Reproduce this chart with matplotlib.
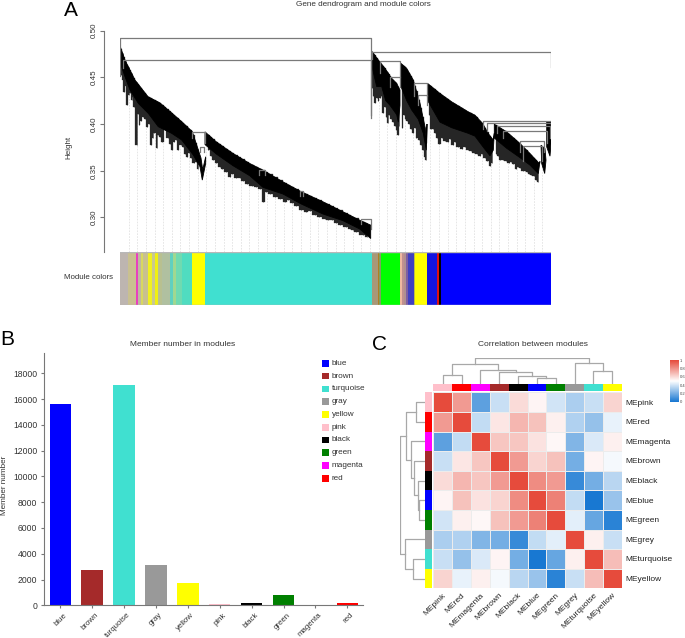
import numpy as np
import matplotlib
matplotlib.use("Agg")
import matplotlib.pyplot as plt
from matplotlib.colors import LinearSegmentedColormap
from matplotlib.patches import Rectangle
from matplotlib.transforms import ScaledTranslation

plt.rcParams['font.family'] = ['Liberation Sans', 'DejaVu Sans']

W, H = 685, 638

# A. dendrogram branches: position along the gene order, top and bottom of the black band
b1_pos_top = [0.3, 5, 15, 28, 40, 51.7, 61.7, 72.3, 76.7, 81, 82.7, 85.7]
b1_top = [.4827, .4684, .447, .4292, .4225, .4118, .4025, .3918, .3775, .3636, .351, .365]
b1_pos_bot = [0.3, 5, 10, 18.3, 28.3, 38.3, 51.7, 61.7, 73.3, 80, 82.3, 85.7]
b1_bot = [.4649, .4506, .4364, .4221, .4114, .3971, .39, .3829, .3668, .3543, .34, .358]

b2_pos = [85, 96.3, 113, 129.7, 143, 163, 181.3, 203, 223, 239.7, 250.7]
b2_top = [.3916, .3809, .3685, .3578, .3506, .3381, .3275, .3168, .3061, .2971, .2918]
b2_bot = [.378, .3679, .3554, .3447, .3322, .3251, .3144, .3037, .2966, .2877, .2775]

b3_pos_top = [252.3, 258.3, 265, 271.7, 276.7, 280]
b3_top = [.4773, .4684, .4595, .4488, .4434, .4363]
b3_pos_bot = [252.3, 256.7, 261.7, 265.7, 270, 276.7, 278.3, 280]
b3_bot = [.46, .44, .44, .425, .42, .41, .402, .42]

b4_pos_top = [281, 286.7, 293.3, 300, 305, 306.7]
b4_top = [.4648, .4595, .447, .4221, .3971, .3793]
b4_pos_bot = [281, 286.7, 291.7, 298.3, 303.3, 306.3, 307]
b4_bot = [.44, .425, .415, .405, .39, .372, .40]

b5_pos_top = [307.7, 320, 331.7, 348.3, 355, 362.7, 368.3, 373.3]
b5_top = [.4433, .4326, .4237, .413, .4094, .4005, .3898, .3827]
b5_pos_bot = [307.7, 320, 331.7, 348.3, 355, 362.7, 370, 373.3, 374.3]
b5_bot = [.425, .402, .396, .39, .387, .376, .366, .372, .39]

b6_pos_top = [374.3, 386.7, 400, 410, 419.3]
b6_top = [.3998, .3916, .3791, .3684, .3577]
b6_pos_bot = [374.3, 386.7, 400, 410, 418.3, 420]
b6_bot = [.385, .374, .364, .356, .347, .36]

b7_pos_top = [421, 425]
b7_top = [.3773, .3737]
b7_pos_bot = [421.7, 424.7, 426]
b7_bot = [.3577, .347, .3613]

b8_pos_top = [426.7, 431]
b8_top = [.4023, .4023]
b8_pos_bot = [426.7, 430, 431.3]
b8_bot = [.3755, .3656, .3827]

# long leaves hanging below the band
spike_pos = [1, 2.5, 4, 5.5, 7.3, 8.5, 10, 11.5, 12.3, 14, 16.7, 18, 19.3, 21, 23.3, 25, 27.3, 29, 30.7, 32.5,
             34.3, 36.7, 38, 40, 42, 45, 47.5, 49.5, 51.7, 53.5, 56, 58, 60.5, 63.3, 65, 66.7, 69, 71, 73.5, 76, 78,
             88, 91, 93, 96, 99.7, 102, 106, 109.7, 112, 116, 119.7, 123, 127, 132, 136, 140, 143, 146, 150, 155,
             160, 165, 168, 172, 176, 181.3, 186, 190, 195, 199, 204.7, 208, 212, 216, 219.7, 226, 230, 233, 236,
             243, 247,
             252.3, 253.5, 255, 257, 258.5, 260, 261.5, 263.3, 265, 266.5, 267.7, 269, 271, 273, 275, 276.5, 278.3,
             279.5, 282.3, 284, 285.5, 287.5, 289.5, 291, 293, 295, 296.5, 299, 301, 303, 305, 306,
             309, 311, 313, 315, 317, 319.3, 322, 325, 328, 330, 333, 335, 338, 341.7, 345, 348, 351, 354, 357, 360,
             362, 365, 367.5, 370, 372,
             376, 378, 380, 383, 386, 389, 391, 393.3, 396, 398, 400, 403, 405, 406.7, 409, 411, 414, 416, 418.3]
spike_low = [.4524, .447, .4345, .441, .4203, .431, .4328, .426, .4292, .418, .3775, .411, .3989, .403, .4078, .405,
             .3971, .40, .3775, .385,
             .39, .374, .388, .3864, .381, .3936, .385, .379, .3722, .381, .3829, .372, .377, .3757, .368, .365,
             .369, .3632, .358, .3597, .352,
             .372, .366, .3613, .358, .3542, .352, .349, .3435, .347, .342, .3417, .339, .336, .334, .333, .330,
             .3168, .327, .325, .322,
             .320, .317, .3186, .315, .312, .3078, .306, .307, .303, .301, .2989, .297, .297, .294, .2918, .290,
             .288, .2865, .285, .281, .279,
             .4381, .43, .4221, .428, .425, .428, .43, .4114, .418, .408, .4007, .41, .405, .402, .398, .394, .3882,
             .398, .3953, .41, .405, .403, .40, .395, .39, .3953, .385, .383, .378, .372, .365, .362,
             .41, .395, .395, .39, .385, .3791, .385, .382, .381, .384, .377, .3809, .375, .3737, .375, .372, .371,
             .3691, .368, .366,
             .368, .3641, .36, .3552, .358,
             .368, .366, .3613, .362, .36, .358, .359, .3577, .352, .354, .3531, .35, .35, .3488, .346, .345, .3442,
             .34, .3381]

# brackets joining the branches
br_left = [0, 3, 252.3, 260, 270, 294, 298, 362.7, 366.7, 376.7, 383, 400, 403, 72.3, 79.7, 241, 139, 180]
br_right = [251.3, 251.3, 431.3, 280, 280, 307.3, 307.3, 430.7, 430.7, 430, 427, 424, 421.7, 85, 83.7, 251, 145, 183]
br_height = [.4922, .4683, .4771, .4673, .4499, .4443, .4308, .4033, .4012, .3976, .3926, .382, .3766, .3916,
             .3755, .2982, .3506, .3281]
br_left_low = [.451, .46, .47, .455, .44, .43, .42, .395, .393, .39, .385, .37, .36, .385, .37, .293, .345, .323]
br_right_low = [.4067, .41, .4611, .45, .44, .43, .42, .39, .385, .385, .38, .37, .36, .38, .37, .288, .345, .323]

# module colour strip along the dendrogram
strip_edges = [0, 8, 16, 17.5, 20.5, 22.5, 28, 32, 35, 37.5, 41.5, 50, 52.7, 56, 61.7, 72.3, 85, 251.7,
               257.7, 259, 260.7, 279.7, 282.3, 284, 286, 288, 294, 295, 307.3, 317, 318.7, 321, 431.3]
strip_colors = ['#bdb5b0', '#c9c090', '#e840c0', '#c0b8a0', '#d8d860', '#c8c090', '#f0f020', '#c8c890', '#f0f010',
                '#b8c090', '#b0c0a0', '#60d0c0', '#a0d890', '#70dab0', '#50dcc0', '#ffff00', '#40e0d0',
                '#a89878', '#b08020', '#80a060', '#00ff00', '#f0b8a0', '#c09090', '#b09090', '#8060a0', '#4040c0',
                '#c0c040', '#ffff00', '#1414e0', '#e01010', '#000000', '#0000ff']

# B. member numbers
modules = ['blue', 'brown', 'turquoise', 'gray', 'yellow', 'pink', 'black', 'green', 'magenta', 'red']
members = [15600, 2750, 17100, 3100, 1750, 80, 200, 800, 60, 190]
module_colors = ['#0000ff', '#a52a2a', '#40e0d0', '#999999', '#ffff00', '#ffc0cb', '#000000', '#008000', '#ff00ff',
                 '#ff0000']

# C. correlation between module eigengenes
me_names = ['MEpink', 'MEred', 'MEmagenta', 'MEbrown', 'MEblack', 'MEblue', 'MEgreen', 'MEgrey', 'MEturquoise',
            'MEyellow']
me_colors = ['#ffc0cb', '#ff0000', '#ff00ff', '#a52a2a', '#000000', '#0000ff', '#008000', '#999999', '#40e0d0',
             '#ffff00']
corr = [[1, .78, .15, .38, .60, .53, .40, .32, .38, .62],
        [.78, 1, .37, .57, .70, .67, .54, .33, .27, .45],
        [.15, .37, 1, .66, .66, .58, .52, .23, .42, .54],
        [.38, .57, .66, 1, .78, .62, .67, .20, .53, .48],
        [.60, .70, .66, .78, 1, .82, .78, .07, .20, .35],
        [.53, .67, .58, .62, .82, 1, .85, .37, 0, .28],
        [.40, .54, .52, .67, .78, .85, 1, .44, .17, .04],
        [.32, .33, .23, .20, .07, .37, .44, 1, .54, .38],
        [.38, .27, .42, .53, .20, 0, .17, .54, 1, .68],
        [.62, .45, .54, .48, .35, .28, .04, .38, .68, 1]]

# tree over the heatmap: ids 0-9 are leaves, each merge gets the next id
merge_a = [0, 5, 4, 3, 2, 10, 8, 7, 15]
merge_b = [1, 6, 11, 12, 13, 14, 9, 16, 17]
merge_h = [28, 18, 23, 35, 43, 60, 38, 63, 78]


def box(left, top, right, bottom):
    return fig.add_axes([left / W, 1 - bottom / H, (right - left) / W, (bottom - top) / H])


def label(x, y, s, **kw):
    fig.text(x / W, 1 - y / H, s, **kw)


def draw_tree(ax, vertical):
    pos = {i: i + .5 for i in range(10)}
    hgt = {i: 0 for i in range(10)}
    for k, (a, b, h) in enumerate(zip(merge_a, merge_b, merge_h)):
        xs = [pos[a], pos[a], pos[b], pos[b]]
        ys = [hgt[a], h, h, hgt[b]]
        if vertical:
            ax.plot(xs, ys, color='#a8a8a8', lw=.9)
        else:
            ax.plot(ys, xs, color='#a8a8a8', lw=.9)
        pos[10 + k] = (pos[a] + pos[b]) / 2
        hgt[10 + k] = h
    ax.axis('off')


fig = plt.figure(figsize=(W / 100, H / 100), dpi=100)

# 1. Panel A
ax = box(120, 30.5, 551.3, 251.7)
ax.set_xlim(0, 431.3)
ax.set_ylim(.2634, .5)

branches = [(b1_pos_top, b1_top, b1_pos_bot, b1_bot), (b2_pos, b2_top, b2_pos, b2_bot),
            (b3_pos_top, b3_top, b3_pos_bot, b3_bot), (b4_pos_top, b4_top, b4_pos_bot, b4_bot),
            (b5_pos_top, b5_top, b5_pos_bot, b5_bot), (b6_pos_top, b6_top, b6_pos_bot, b6_bot),
            (b7_pos_top, b7_top, b7_pos_bot, b7_bot), (b8_pos_top, b8_top, b8_pos_bot, b8_bot)]

all_pos = np.concatenate([b[0] for b in branches])
all_top = np.concatenate([b[1] for b in branches])
guides = np.arange(8.7, 432, 8.62)
guide_top = np.interp(guides, all_pos, all_top)
guide_top[-1] = .4575
ax.vlines(guides, .2634, guide_top, color='#e2e2e2', lw=.6, linestyles=(0, (2, 1.5)), zorder=1)

spike_tops = np.interp(spike_pos, all_pos, all_top)
ax.vlines(spike_pos, spike_tops, spike_low, color='#555555', lw=.7, alpha=.8, zorder=2)
# blocky fringe under the band, one piece per branch
breaks = np.searchsorted(spike_pos, [80, 250, 281, 308, 374])
for p, t, l in zip(np.split(spike_pos, breaks), np.split(spike_tops, breaks), np.split(spike_low, breaks)):
    ax.fill_between(p, t, l, step='mid', color='#262626', lw=.2, zorder=2.5)
for pt, t, pb, b in branches:
    ax.fill(list(pt) + list(pb)[::-1], list(t) + list(b)[::-1], color='black', lw=.6, zorder=3)

for l, r, h, ll, rl in zip(br_left, br_right, br_height, br_left_low, br_right_low):
    ax.plot([l, l, r, r], [ll, h, h, rl], color='#7a7a7a', lw=.9, zorder=4)

ax.spines[['top', 'right', 'bottom']].set_visible(False)
ax.spines['left'].set_position(('outward', 11.7))
ax.spines['left'].set_color('#777777')
ax.spines['left'].set_bounds(.2634, .5)
ax.set_xticks([])
ax.set_yticks([.30, .35, .40, .45, .50], ['0.30', '0.35', '0.40', '0.45', '0.50'])
ax.tick_params(axis='y', labelsize=5.8, labelcolor='#333333', color='#777777', length=3, width=.8, pad=1)
for t in ax.get_yticklabels():
    t.set_rotation(90)
    t.set_va('center')

strip = box(120, 251.7, 551.3, 305)
strip.bar(strip_edges[:-1], 1, width=np.diff(strip_edges), align='edge', color=strip_colors, lw=0)
strip.set_xlim(0, 431.3)
strip.set_ylim(0, 1)
strip.set_xticks([])
strip.set_yticks([])
for s in strip.spines.values():
    s.set_visible(False)
strip.axhline(0.005, color='#b8b8b8', lw=1)
strip.axhline(0.995, color='#b8b8b8', lw=1)

label(363, 4, 'Gene dendrogram and module colors', fontsize=5.9, color='#333333', ha='center', va='center')
label(69, 147, 'Height', fontsize=5.8, color='#333333', rotation=90, ha='center', va='center')
label(88, 278, 'Module colors', fontsize=5.7, color='#333333', ha='center', va='center')
label(64, 10, 'A', fontsize=15, ha='left', va='center')
label(0, 339, 'B', fontsize=15, ha='left', va='center')
label(372, 344, 'C', fontsize=15, ha='left', va='center')

# 2. Panel B
ax = box(44.3, 352.7, 363.3, 605.3)
x = np.arange(len(modules))
ax.bar(x, members, width=.67, color=module_colors)
ax.set_xlim(-.5, 9.5)
ax.set_ylim(0, 19600)
ax.set_yticks(np.arange(0, 18001, 2000))
ax.set_xticks(x, modules, rotation=45, ha='right', rotation_mode='anchor')
ax.spines[['top', 'right']].set_visible(False)
ax.spines[['left', 'bottom']].set_color('#777777')
ax.tick_params(labelsize=6.2, labelcolor='#333333', color='#777777', length=2.5, width=.8, pad=2.5)
ax.tick_params(axis='x', labelsize=5.7, pad=2)
shift = ScaledTranslation(3 / 100, 0, fig.dpi_scale_trans)
for t in ax.get_xticklabels():
    t.set_transform(t.get_transform() + shift)
label(182.5, 345, 'Member number in modules', fontsize=6, color='#333333', ha='center', va='center')
label(5, 485.7, 'Member number', fontsize=5.9, color='#333333', rotation=90, ha='center', va='center')

for i, (name, c) in enumerate(zip(modules, module_colors)):
    yc = 363.3 + i * 12.78
    fig.patches.append(Rectangle((322 / W, 1 - (yc + 3.3) / H), 6.7 / W, 6.6 / H, transform=fig.transFigure,
                                 facecolor=c, edgecolor='none'))
    label(331.7, yc, name, fontsize=5.9, color='#333333', ha='left', va='center')

# 3. Panel C
cmap = LinearSegmentedColormap.from_list('corr', ['#1878d2', '#ffffff', '#e64b3c'])
ax = box(433.3, 392.3, 621.7, 588.3)
ax.pcolormesh(np.array(corr), cmap=cmap, vmin=0, vmax=1, edgecolors='#ececec', linewidth=.4)
ax.set_xlim(0, 10)
ax.set_ylim(10, 0)
ax.set_xticks(x + .5, me_names, rotation=45, ha='right', rotation_mode='anchor')
ax.yaxis.tick_right()
ax.set_yticks(x + .5, me_names)
ax.tick_params(length=0, labelsize=6, labelcolor='#222222', pad=2.5)
for s in ax.spines.values():
    s.set_visible(False)

top_bar = box(433.3, 384.3, 621.7, 391)
top_bar.bar(x + .5, 1, width=1, color=me_colors)
top_bar.set_xlim(0, 10)
top_bar.set_ylim(0, 1)
top_bar.axis('off')

left_bar = box(425, 392.3, 432, 588.3)
left_bar.barh(x + .5, 1, height=1, color=me_colors)
left_bar.set_ylim(10, 0)
left_bar.set_xlim(0, 1)
left_bar.axis('off')

top_tree = box(433.3, 358, 621.7, 384)
top_tree.set_xlim(0, 10)
top_tree.set_ylim(0, 78)
draw_tree(top_tree, True)

left_tree = box(400, 392.3, 425, 588.3)
left_tree.set_xlim(78, 0)
left_tree.set_ylim(10, 0)
draw_tree(left_tree, False)

cb = box(670, 360, 678.3, 401.7)
cb.imshow(np.linspace(1, 0, 100).reshape(-1, 1), cmap=cmap, aspect='auto', extent=[0, 1, 0, 1])
cb.set_xticks([])
cb.yaxis.tick_right()
cb.set_yticks([0, .2, .4, .6, .8, 1], ['0', '0.2', '0.4', '0.6', '0.8', '1'])
cb.tick_params(length=0, labelsize=3, labelcolor='#444444', pad=.8)
for s in cb.spines.values():
    s.set_visible(False)

label(533, 344, 'Correlation between modules', fontsize=6, color='#333333', ha='center', va='center')

fig.savefig('out.png', dpi=100)
